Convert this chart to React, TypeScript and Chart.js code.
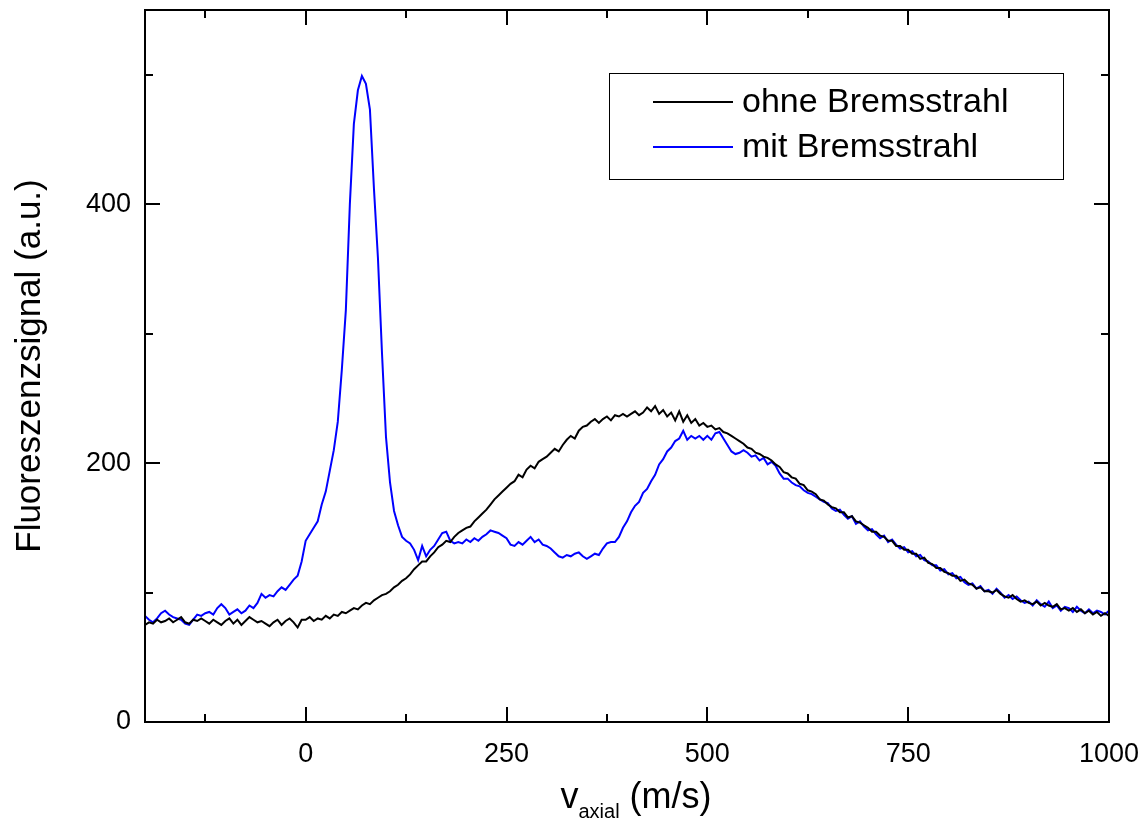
import React, { useEffect, useRef } from "react";
import { Chart, registerables } from "chart.js";

Chart.register(...registerables);

// velocity grid (m/s): samples every 5 m/s from -200 to 1000
const VELOCITY_START = -200;
const VELOCITY_STEP = 5;

// Fluorescence signal without slowing laser (ohne Bremsstrahl)
const ohneBremsstrahl: number[] = [
  75, 77, 76, 79, 77, 78, 80, 77, 79, 81,
  77, 76, 79, 78, 80, 78, 76, 79, 77, 75,
  78, 80, 76, 79, 75, 78, 81, 79, 77, 78,
  76, 74, 77, 79, 75, 78, 80, 77, 73, 79,
  79, 81, 78, 80, 79, 82, 80, 83, 82, 85,
  84, 86, 88, 87, 90, 92, 91, 94, 96, 98,
  99, 101, 104, 106, 109, 111, 114, 118, 121, 124,
  124, 128, 131, 135, 137, 140, 139, 143, 146, 148,
  150, 151, 155, 158, 161, 164, 168, 172, 175, 178,
  181, 184, 186, 191, 189, 195, 198, 196, 201, 203,
  205, 208, 211, 209, 214, 218, 221, 219, 225, 228,
  229, 232, 234, 231, 234, 236, 233, 237, 236, 238,
  236, 238, 240, 237, 239, 243, 240, 244, 238, 241,
  236, 239, 233, 240, 232, 237, 231, 234, 229, 231,
  228, 229, 226, 227, 224, 223, 221, 219, 217, 215,
  212, 211, 208, 207, 205, 204, 202, 199, 197, 193,
  192, 189, 188, 184, 183, 179, 178, 176, 172, 171,
  168, 166, 165, 162, 162, 158, 159, 155, 154, 152,
  150, 147, 147, 144, 143, 140, 140, 136, 136, 133,
  133, 130, 130, 126, 127, 123, 122, 119, 119, 116,
  115, 113, 113, 109, 110, 107, 106, 103, 104, 101,
  101, 100, 102, 99, 97, 96, 98, 95, 93, 94,
  92, 91, 93, 90, 92, 90, 89, 91, 87, 88,
  86, 88, 85, 87, 84, 86, 83, 85, 82, 84,
  82,
];

// Fluorescence signal with slowing laser (mit Bremsstrahl)
const mitBremsstrahl: number[] = [
  82, 79, 77, 80, 84, 86, 83, 81, 80, 79,
  76, 75, 79, 83, 82, 84, 85, 83, 88, 91,
  88, 83, 85, 87, 84, 86, 90, 88, 92, 99,
  96, 98, 97, 101, 104, 102, 106, 110, 113, 124,
  140, 145, 150, 155, 168, 178, 194, 210, 232, 272,
  318, 400, 462, 488, 499, 493, 473, 412, 358, 285,
  220, 185, 163, 152, 143, 140, 138, 133, 125, 136,
  128, 133, 136, 141, 146, 147, 140, 138, 139, 138,
  141, 139, 142, 140, 143, 145, 148, 147, 146, 144,
  142, 137, 136, 139, 137, 140, 143, 139, 141, 137,
  136, 134, 131, 128, 127, 129, 128, 130, 131, 128,
  126, 128, 130, 129, 134, 138, 139, 139, 143, 150,
  155, 162, 167, 170, 177, 180, 186, 191, 199, 203,
  209, 212, 217, 219, 225, 218, 221, 219, 221, 218,
  221, 218, 223, 224, 219, 214, 209, 207, 208, 210,
  208, 205, 206, 202, 204, 199, 201, 198, 192, 188,
  188, 185, 183, 182, 179, 177, 176, 174, 172, 170,
  169, 165, 163, 164, 160, 157, 159, 153, 155, 151,
  148, 149, 145, 142, 144, 139, 141, 137, 134, 135,
  131, 132, 128, 129, 125, 124, 121, 121, 117, 118,
  114, 115, 111, 112, 108, 106, 107, 103, 105, 101,
  102, 99, 103, 100, 96, 98, 95, 97, 94, 92,
  93, 90, 94, 91, 89, 93, 88, 90, 86, 89,
  88, 85, 89, 86, 84, 87, 84, 86, 85, 83,
  86,
];

const seriesNames = ["ohne Bremsstrahl", "mit Bremsstrahl"];
const seriesColors = ["#000000", "#0000ff"];

const xMajorTicks = [0, 250, 500, 750, 1000];
const xMinorTicks = [-125, 125, 375, 625, 875];
const yMajorTicks = [0, 200, 400];
const yMinorTicks = [100, 300, 500];

const X_MIN = -200;
const X_MAX = 1000;
const Y_MIN = 0;
const Y_MAX = 550;

const FONT = "'Liberation Sans', Arial, Helvetica, sans-serif";

const decorPlugin = {
  id: "decor",
  afterDraw(chart: any) {
    const { ctx, chartArea, scales } = chart;
    const { left, right, top, bottom } = chartArea;
    const xs = scales.x;
    const ys = scales.y;
    ctx.save();
    ctx.strokeStyle = "#000";
    ctx.lineWidth = 2;
    ctx.strokeRect(left, top, right - left, bottom - top);

    const major = 15;
    const minor = 8;
    ctx.beginPath();
    const vTick = (v: number, len: number) => {
      const px = Math.round(xs.getPixelForValue(v));
      ctx.moveTo(px, bottom);
      ctx.lineTo(px, bottom - len);
      ctx.moveTo(px, top);
      ctx.lineTo(px, top + len);
    };
    const hTick = (v: number, len: number) => {
      const py = Math.round(ys.getPixelForValue(v));
      ctx.moveTo(left, py);
      ctx.lineTo(left + len, py);
      ctx.moveTo(right, py);
      ctx.lineTo(right - len, py);
    };
    xMajorTicks.forEach((v) => vTick(v, major));
    xMinorTicks.forEach((v) => vTick(v, minor));
    yMajorTicks.forEach((v) => hTick(v, major));
    yMinorTicks.forEach((v) => hTick(v, minor));
    ctx.stroke();

    // y axis title
    ctx.fillStyle = "#000";
    ctx.save();
    ctx.translate(30, (top + bottom) / 2);
    ctx.rotate(-Math.PI / 2);
    ctx.font = `35px ${FONT}`;
    ctx.textAlign = "center";
    ctx.textBaseline = "middle";
    ctx.fillText("Fluoreszenzsignal (a.u.)", 0, 0);
    ctx.restore();

    // x axis title with subscript
    const mainFont = `36px ${FONT}`;
    const subFont = `20px ${FONT}`;
    ctx.font = mainFont;
    const wV = ctx.measureText("v").width;
    const wRest = ctx.measureText(" (m/s)").width;
    ctx.font = subFont;
    const wSub = ctx.measureText("axial").width;
    const total = wV + wSub + wRest;
    const cx = 636;
    let x0 = cx - total / 2;
    const base = 808;
    ctx.textAlign = "left";
    ctx.textBaseline = "alphabetic";
    ctx.font = mainFont;
    ctx.fillText("v", x0, base);
    x0 += wV;
    ctx.font = subFont;
    ctx.fillText("axial", x0, base + 10);
    x0 += wSub;
    ctx.font = mainFont;
    ctx.fillText(" (m/s)", x0, base);

    // legend
    const bx = 609, by = 73, bw = 454, bh = 106;
    ctx.lineWidth = 1;
    ctx.strokeStyle = "#000";
    ctx.strokeRect(bx + 0.5, by + 0.5, bw, bh);
    const rows = [102, 147];
    seriesNames.forEach((name, i) => {
      ctx.strokeStyle = seriesColors[i];
      ctx.lineWidth = 2;
      ctx.beginPath();
      ctx.moveTo(653, rows[i]);
      ctx.lineTo(733, rows[i]);
      ctx.stroke();
      ctx.fillStyle = "#000";
      ctx.font = `34px ${FONT}`;
      ctx.textAlign = "left";
      ctx.textBaseline = "middle";
      ctx.fillText(name, 742, rows[i] + 1);
    });
    ctx.restore();
  },
};

const zeroPadding = (s: any) => {
  s.paddingTop = 0;
  s.paddingBottom = 0;
  s.paddingLeft = 0;
  s.paddingRight = 0;
};

export default function App() {
  const canvasRef = useRef<HTMLCanvasElement | null>(null);

  useEffect(() => {
    const canvas = canvasRef.current;
    if (!canvas) return;
    const velocities = ohneBremsstrahl.map((_, i) => VELOCITY_START + VELOCITY_STEP * i);
    const allSeries = [ohneBremsstrahl, mitBremsstrahl];
    const chart = new Chart(canvas, {
      type: "line",
      data: {
        datasets: allSeries.map((vals, i) => ({
          label: seriesNames[i],
          data: vals.map((y, j) => ({ x: velocities[j], y })),
          borderColor: seriesColors[i],
          backgroundColor: seriesColors[i],
          borderWidth: 2,
          pointRadius: 0,
          tension: 0,
          fill: false,
        })),
      },
      options: {
        animation: false,
        responsive: false,
        maintainAspectRatio: false,
        layout: { padding: { top: 10, right: 39, left: 0, bottom: 0 } },
        plugins: {
          legend: { display: false },
          tooltip: { enabled: false },
        },
        scales: {
          x: {
            type: "linear",
            min: X_MIN,
            max: X_MAX,
            grid: { display: false, drawTicks: false },
            border: { display: false },
            afterBuildTicks: (s: any) => {
              s.ticks = xMajorTicks.map((v) => ({ value: v }));
            },
            afterFit: (s: any) => {
              s.height = 106;
              zeroPadding(s);
            },
            ticks: {
              color: "#000",
              font: { family: FONT, size: 27 },
              padding: 16,
              maxRotation: 0,
              autoSkip: false,
              callback: (v: any) => String(v),
            },
          },
          y: {
            type: "linear",
            min: Y_MIN,
            max: Y_MAX,
            grid: { display: false, drawTicks: false },
            border: { display: false },
            afterBuildTicks: (s: any) => {
              s.ticks = yMajorTicks.map((v) => ({ value: v }));
            },
            afterFit: (s: any) => {
              s.width = 145;
              zeroPadding(s);
            },
            ticks: {
              color: "#000",
              font: { family: FONT, size: 27 },
              padding: 14,
              autoSkip: false,
              callback: (v: any) => String(v),
            },
          },
        },
      },
      plugins: [decorPlugin],
    });
    return () => chart.destroy();
  }, []);

  return (
    <div style={{ position: "fixed", left: 0, top: 0, width: 1148, height: 828, background: "#fff" }}>
      <canvas ref={canvasRef} width={1148} height={828} style={{ width: 1148, height: 828, display: "block" }} />
    </div>
  );
}
